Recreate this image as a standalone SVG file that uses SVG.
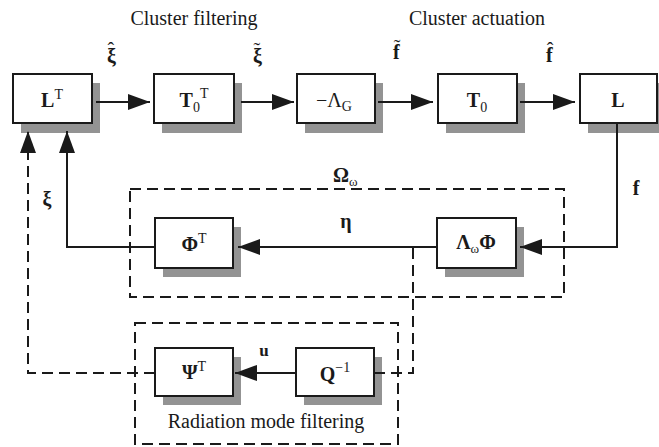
<svg xmlns="http://www.w3.org/2000/svg" width="659" height="447" viewBox="0 0 659 447">
  <style>
    text { font-family: "Liberation Serif", "Times New Roman", serif; fill: #1a1a1a; }
    .box { fill: #ffffff; stroke: #1a1a1a; stroke-width: 2; }
    .shadow { fill: #939393; }
    .lbl { font-size: 20px; }
    .b { font-weight: bold; }
    .cap { font-size: 20px; }
    .acc { font-weight: normal; }
    .wire { fill: none; stroke: #1a1a1a; stroke-width: 2; }
    .dash { fill: none; stroke: #1a1a1a; stroke-width: 2; stroke-dasharray: 11 6; }
  </style>
  <defs>
    <marker id="arrow" markerUnits="userSpaceOnUse" markerWidth="22" markerHeight="16" refX="22" refY="8" orient="auto">
      <path d="M0,0 L22,8 L0,16 z" fill="#1a1a1a"/>
    </marker>
  </defs>

  <rect width="659" height="447" fill="#ffffff"/>

  <!-- captions -->
  <text class="cap" x="194" y="25" text-anchor="middle">Cluster filtering</text>
  <text class="cap" x="477" y="25" text-anchor="middle">Cluster actuation</text>

  <!-- grouping frames -->
  <g id="omega-frame">
    <rect class="dash" x="130" y="189" width="434" height="108"/>
    <text x="333" y="182" font-size="20"><tspan class="b">Ω</tspan><tspan font-size="13" dy="4">ω</tspan></text>
  </g>
  <g id="radiation-frame">
    <rect class="dash" x="135" y="323" width="263" height="121"/>
    <text class="cap" x="266" y="428" text-anchor="middle">Radiation mode filtering</text>
  </g>

  <!-- top row -->
  <g id="node-LT">
    <rect class="shadow" x="21" y="83" width="79" height="50"/>
    <rect class="box" x="13" y="74" width="79" height="49"/>
    <text class="lbl" x="52" y="107" text-anchor="middle"><tspan class="b">L</tspan><tspan font-size="14" dy="-8">T</tspan></text>
  </g>
  <g id="node-T0T">
    <rect class="shadow" x="162" y="83" width="80" height="50"/>
    <rect class="box" x="154" y="74" width="80" height="49"/>
    <text class="lbl" x="194" y="107" text-anchor="middle"><tspan class="b">T</tspan><tspan font-size="14" dy="5">0</tspan><tspan font-size="14" dy="-14">T</tspan></text>
  </g>
  <g id="node-LambdaG">
    <rect class="shadow" x="305" y="83" width="78" height="50"/>
    <rect class="box" x="297" y="74" width="78" height="49"/>
    <text class="lbl" x="334" y="107" text-anchor="middle">−Λ<tspan font-size="14" dy="4">G</tspan></text>
  </g>
  <g id="node-T0">
    <rect class="shadow" x="446" y="83" width="79" height="50"/>
    <rect class="box" x="438" y="74" width="79" height="49"/>
    <text class="lbl" x="477" y="107" text-anchor="middle"><tspan class="b">T</tspan><tspan font-size="14" dy="5">0</tspan></text>
  </g>
  <g id="node-L">
    <rect class="shadow" x="588" y="83" width="77" height="50"/>
    <rect class="box" x="580" y="74" width="77" height="49"/>
    <text class="lbl b" x="618" y="107" text-anchor="middle">L</text>
  </g>

  <!-- middle row -->
  <g id="node-PhiT">
    <rect class="shadow" x="163" y="227" width="78" height="50"/>
    <rect class="box" x="155" y="218" width="78" height="50"/>
    <text class="lbl" x="194" y="251" text-anchor="middle"><tspan class="b">Φ</tspan><tspan font-size="14" dy="-8">T</tspan></text>
  </g>
  <g id="node-LambdaPhi">
    <rect class="shadow" x="445" y="227" width="79" height="50"/>
    <rect class="box" x="437" y="218" width="79" height="50"/>
    <text class="lbl" x="476" y="249" text-anchor="middle"><tspan class="b">Λ</tspan><tspan font-size="13" dy="4">ω</tspan><tspan class="b" dy="-4">Φ</tspan></text>
  </g>

  <!-- bottom row -->
  <g id="node-PsiT">
    <rect class="shadow" x="163" y="357" width="78" height="48"/>
    <rect class="box" x="155" y="348" width="78" height="48"/>
    <text class="lbl" x="194" y="379" text-anchor="middle"><tspan class="b">Ψ</tspan><tspan font-size="14" dy="-8">T</tspan></text>
  </g>
  <g id="node-Qinv">
    <rect class="shadow" x="304" y="357" width="78" height="48"/>
    <rect class="box" x="296" y="348" width="78" height="48"/>
    <text class="lbl" x="335" y="381" text-anchor="middle"><tspan class="b">Q</tspan><tspan font-size="14" dy="-9">−1</tspan></text>
  </g>

  <!-- connectors -->
  <g id="connectors">
    <line class="wire" x1="96" y1="102" x2="150" y2="102" marker-end="url(#arrow)"/>
    <line class="wire" x1="241" y1="102" x2="294" y2="102" marker-end="url(#arrow)"/>
    <line class="wire" x1="378" y1="102" x2="433" y2="102" marker-end="url(#arrow)"/>
    <line class="wire" x1="520" y1="102" x2="575" y2="102" marker-end="url(#arrow)"/>
    <polyline class="wire" points="617,123 617,247 520,247" marker-end="url(#arrow)"/>
    <line class="wire" x1="437" y1="247" x2="238" y2="247" marker-end="url(#arrow)"/>
    <polyline class="wire" points="155,247 67,247 67,131" marker-end="url(#arrow)"/>
    <polyline class="dash" points="155,373 28,373 28,131" marker-end="url(#arrow)"/>
    <line class="wire" x1="296" y1="373" x2="235" y2="373" marker-end="url(#arrow)"/>
    <polyline class="dash" points="413,248 413,373 375,373"/>
  </g>

  <!-- signal labels; each accent is a tspan pulled back over its symbol -->
  <g id="signal-labels" class="lbl b">
    <text x="107" y="63">ξ<tspan class="acc" dx="-8.3" dy="-6">ˆ</tspan></text>
    <text x="253" y="63">ξ<tspan class="acc" dx="-8.3" dy="-6">˜</tspan></text>
    <text x="393" y="59">f<tspan class="acc" dx="-6" dy="-5">˜</tspan></text>
    <text x="546" y="62">f<tspan class="acc" dx="-6" dy="-5">ˆ</tspan></text>
    <text x="47" y="206" text-anchor="middle">ξ</text>
    <text x="346" y="228" text-anchor="middle">η</text>
    <text x="636" y="195" text-anchor="middle">f</text>
    <text x="264" y="356" text-anchor="middle" font-size="17">u</text>
  </g>
</svg>
